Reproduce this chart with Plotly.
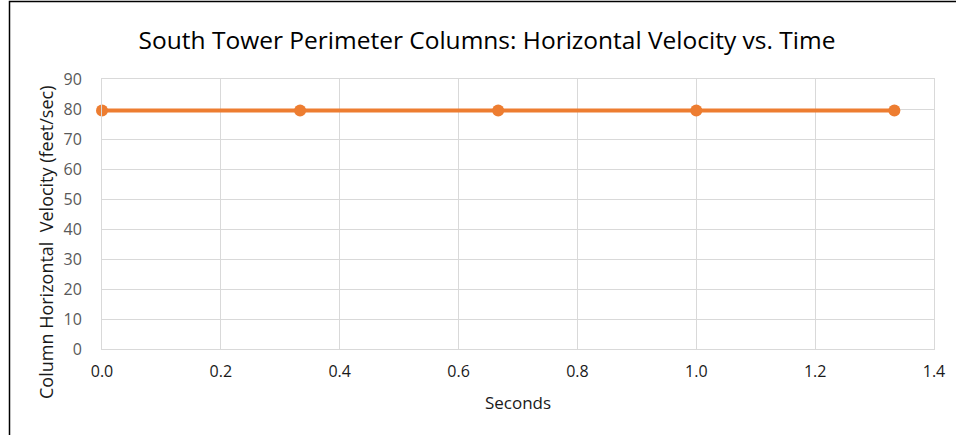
import plotly.graph_objects as go

seconds = [0.0, 1/3, 2/3, 1.0, 4/3]
velocity = [79.5, 79.5, 79.5, 79.5, 79.5]
x_ticks = [0.0, 0.2, 0.4, 0.6, 0.8, 1.0, 1.2, 1.4]
y_ticks = [0, 10, 20, 30, 40, 50, 60, 70, 80, 90]

W, H = 956, 435
L, R, T, B = 102, 22, 79, 86

fig = go.Figure()
fig.add_trace(go.Scatter(
    x=seconds, y=velocity, mode="lines+markers",
    line=dict(color="#ED7D31", width=4),
    marker=dict(color="#ED7D31", size=12),
    showlegend=False, cliponaxis=False,
))

pw, ph = W - L - R, H - T - B
fig.add_shape(type="rect", xref="paper", yref="paper",
              x0=(9.5 - L) / pw, x1=(W + 10 - L) / pw,
              y0=(H - B - (H + 10)) / ph, y1=(H - B - 1.5) / ph,
              line=dict(color="#000000", width=1.5), layer="below")

# y-axis title placed as annotation (Excel-style offset)
fig.add_annotation(text="Column Horizontal  Velocity (feet/sec)",
                   xref="paper", yref="paper",
                   x=(46 - L) / pw, y=(H - B - 243) / ph,
                   xanchor="center", yanchor="middle", textangle=-90,
                   showarrow=False, font=dict(size=18, color="#1a1a1a"))

fig.update_layout(
    width=W, height=H,
    margin=dict(l=L, r=R, t=T, b=B),
    paper_bgcolor="white", plot_bgcolor="white",
    font=dict(family="Open Sans", color="#595959"),
    title=dict(text="South Tower Perimeter Columns: Horizontal Velocity vs. Time",
               x=(487 - L) / pw, xref="paper", xanchor="center",
               y=1 - 40 / H, yanchor="middle",
               font=dict(size=24.5, color="#000000", family="Open Sans")),
    xaxis=dict(range=[0, 1.4], tickvals=x_ticks, ticktext=[f"{v:.1f}" for v in x_ticks],
               showgrid=True, gridcolor="#D9D9D9", gridwidth=1,
               showline=True, linecolor="#D9D9D9", mirror=True, zeroline=False,
               ticks="", ticklabelstandoff=8,
               tickfont=dict(size=16, color="#1a1a1a"),
               title=dict(text="Seconds", font=dict(size=17, color="#1a1a1a"), standoff=15)),
    yaxis=dict(range=[0, 90], tickvals=y_ticks,
               showgrid=True, gridcolor="#D9D9D9", gridwidth=1,
               showline=True, linecolor="#D9D9D9", mirror=True, zeroline=False,
               ticks="", ticklabelstandoff=16,
               tickfont=dict(size=16, color="#595959")),
)

fig.write_html("out.html", config={"displayModeBar": False},
               post_script="document.body.style.margin='0';")
